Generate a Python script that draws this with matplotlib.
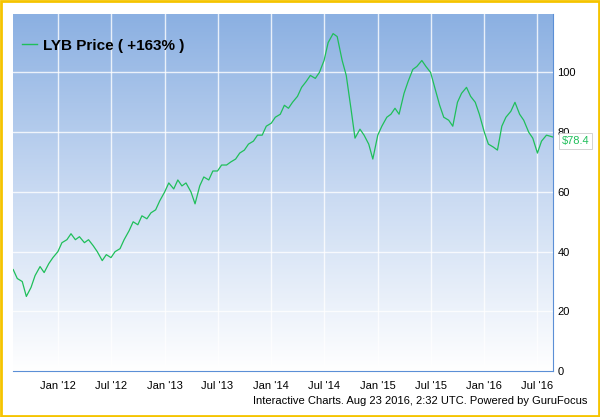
import matplotlib
matplotlib.use('Agg')
import matplotlib.pyplot as plt
import matplotlib.dates as mdates
from matplotlib.patches import Rectangle
import numpy as np
import pandas as pd

plt.rcParams['font.family'] = ['Liberation Sans', 'DejaVu Sans']

# semi-monthly closes
dates = pd.to_datetime([
    '2011-08-01', '2011-08-15', '2011-09-01', '2011-09-15', '2011-10-01', '2011-10-15',
    '2011-11-01', '2011-11-15', '2011-12-01', '2011-12-15',
    '2012-01-01', '2012-01-15', '2012-02-01', '2012-02-15', '2012-03-01', '2012-03-15',
    '2012-04-01', '2012-04-15', '2012-05-01', '2012-05-15', '2012-06-01', '2012-06-15',
    '2012-07-01', '2012-07-15', '2012-08-01', '2012-08-15', '2012-09-01', '2012-09-15',
    '2012-10-01', '2012-10-15', '2012-11-01', '2012-11-15', '2012-12-01', '2012-12-15',
    '2013-01-01', '2013-01-15', '2013-02-01', '2013-02-15', '2013-03-01', '2013-03-15',
    '2013-04-01', '2013-04-15', '2013-05-01', '2013-05-15', '2013-06-01', '2013-06-15',
    '2013-07-01', '2013-07-15', '2013-08-01', '2013-08-15', '2013-09-01', '2013-09-15',
    '2013-10-01', '2013-10-15', '2013-11-01', '2013-11-15', '2013-12-01', '2013-12-15',
    '2014-01-01', '2014-01-15', '2014-02-01', '2014-02-15', '2014-03-01', '2014-03-15',
    '2014-04-01', '2014-04-15', '2014-05-01', '2014-05-15', '2014-06-01', '2014-06-15',
    '2014-07-01', '2014-07-15', '2014-08-01', '2014-08-15', '2014-09-01', '2014-09-15',
    '2014-10-01', '2014-10-15', '2014-11-01', '2014-11-15', '2014-12-01', '2014-12-15',
    '2015-01-01', '2015-01-15', '2015-02-01', '2015-02-15', '2015-03-01', '2015-03-15',
    '2015-04-01', '2015-04-15', '2015-05-01', '2015-05-15', '2015-06-01', '2015-06-15',
    '2015-07-01', '2015-07-15', '2015-08-01', '2015-08-15', '2015-09-01', '2015-09-15',
    '2015-10-01', '2015-10-15', '2015-11-01', '2015-11-15', '2015-12-01', '2015-12-15',
    '2016-01-01', '2016-01-15', '2016-02-01', '2016-02-15', '2016-03-01', '2016-03-15',
    '2016-04-01', '2016-04-15', '2016-05-01', '2016-05-15', '2016-06-01', '2016-06-15',
    '2016-07-01', '2016-07-15', '2016-08-01', '2016-08-22',
])
prices = [
    34, 31, 30, 25, 28, 32,
    35, 33, 36, 38,
    40, 43, 44, 46, 44, 45,
    43, 44, 42, 40, 37, 39,
    38, 40, 41, 44, 47, 50,
    49, 52, 51, 53, 54, 57,
    60, 63, 61, 64, 62, 63,
    60, 56, 62, 65, 64, 67,
    67, 69, 69, 70, 71, 73,
    74, 76, 77, 79, 79, 82,
    83, 85, 86, 89, 88, 90,
    92, 95, 97, 99, 98, 100,
    104, 110, 113, 112, 104, 99,
    88, 78, 81, 79, 76, 71,
    79, 82, 85, 86, 88, 86,
    93, 97, 101, 102, 104, 102,
    100, 95, 89, 85, 84, 82,
    90, 93, 95, 92, 90, 86,
    80, 76, 75, 74, 82, 85,
    87, 90, 86, 84, 80, 78,
    73, 77, 79, 78.4,
]
yticks = [0, 20, 40, 60, 80, 100]
xtick_dates = pd.to_datetime(['2012-01-01', '2012-07-01', '2013-01-01', '2013-07-01', '2014-01-01',
                              '2014-07-01', '2015-01-01', '2015-07-01', '2016-01-01', '2016-07-01'])
xtick_labels = ["Jan '12", "Jul '12", "Jan '13", "Jul '13", "Jan '14",
                "Jul '14", "Jan '15", "Jul '15", "Jan '16", "Jul '16"]

fig = plt.figure(figsize=(6, 4.17), dpi=100)
fig.patch.set_facecolor('white')
fig.patches.append(Rectangle((0.002, 0.003), 0.996, 0.994, transform=fig.transFigure,
                             fill=False, edgecolor='#f5c400', linewidth=2))

ax = fig.add_axes([0.022, 0.110, 0.900, 0.856])
x0, x1 = pd.Timestamp('2011-08-01'), pd.Timestamp('2016-08-24')
ymax = 119.5
ax.set_xlim(x0, x1)
ax.set_ylim(0, ymax)

grad = np.linspace(0, 1, 256).reshape(-1, 1)
cmap = matplotlib.colors.LinearSegmentedColormap.from_list('bg', ['#ffffff', '#c9daf2', '#8bb0e2'])
ax.imshow(grad, aspect='auto', cmap=cmap, origin='lower',
          extent=[mdates.date2num(x0), mdates.date2num(x1), 0, ymax], zorder=0)

for d in xtick_dates:
    ax.axvline(d, color='white', lw=1, alpha=0.8, zorder=1)
for v in yticks[1:]:
    ax.axhline(v, color='white', lw=1, alpha=0.8, zorder=1)

ax.plot(dates, prices, color='#1fbf5a', lw=0.9, zorder=3)

ax.set_xticks(xtick_dates)
ax.set_xticklabels(xtick_labels, fontsize=8)
ax.yaxis.tick_right()
ax.set_yticks(yticks)
ax.set_yticklabels([str(v) for v in yticks], fontsize=8)
ax.tick_params(length=0, pad=7)
ax.tick_params(axis='y', pad=3)
for side in ['top', 'left']:
    ax.spines[side].set_visible(False)
for side in ['bottom', 'right']:
    ax.spines[side].set_color('#5b8fd6')

ax.plot([], [], color='#1fbf5a', lw=1, label='LYB Price ( +163% )')
ax.legend(loc='upper left', bbox_to_anchor=(-0.01, 0.97), frameon=False,
          handlelength=1.0, handletextpad=0.4, prop={'size': 11, 'weight': 'bold'})

ax.annotate('$%.1f' % prices[-1], xy=(1.0, prices[-1] / ymax), xycoords='axes fraction',
            xytext=(6, -3), textcoords='offset points', va='center', fontsize=8,
            color='#1fbf5a',
            bbox=dict(boxstyle='square,pad=0.25', facecolor='white', edgecolor='#cccccc', lw=0.6))

fig.text(0.70, 0.030, 'Interactive Charts. Aug 23 2016, 2:32 UTC. Powered by GuruFocus',
         ha='center', fontsize=8)

fig.savefig('out.png', dpi=100, facecolor='white')
